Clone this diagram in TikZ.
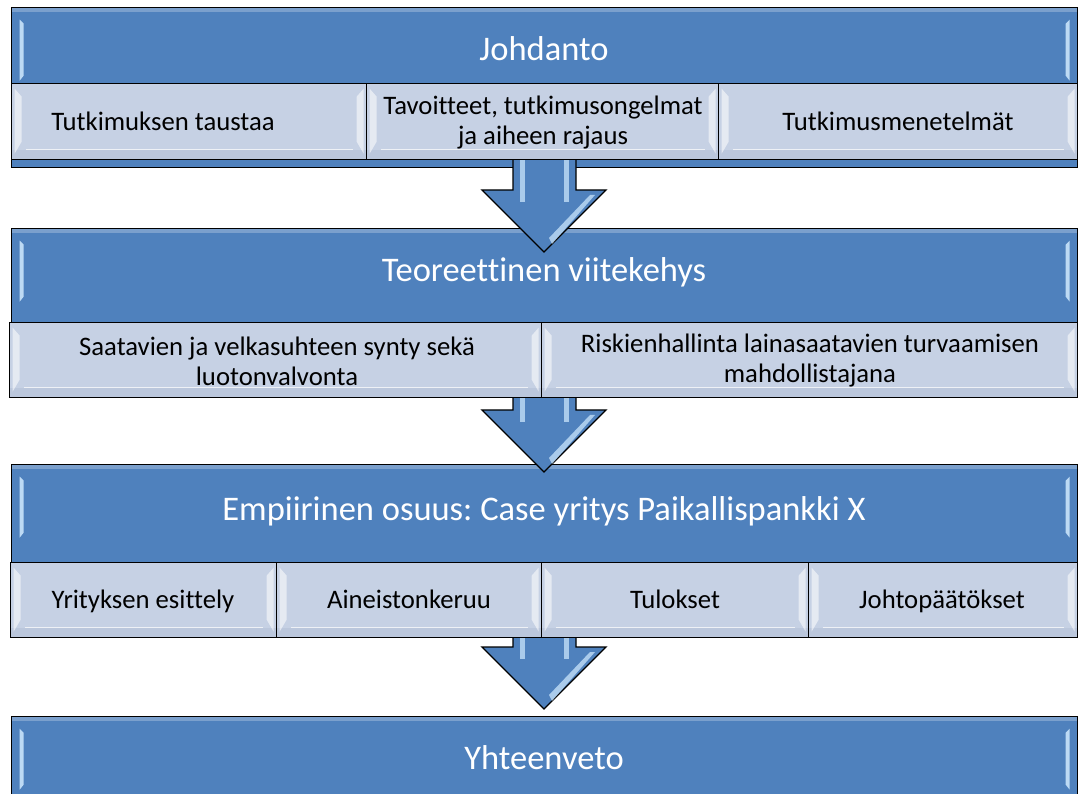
\documentclass[tikz,border=0pt]{standalone}
\usepackage{fontspec}
\setmainfont{Carlito}[Ligatures=CommonOff]
\usetikzlibrary{calc}
\frenchspacing
\definecolor{hblue}{HTML}{4F81BD}
\definecolor{subfill}{HTML}{C6D1E4}
\definecolor{subband}{HTML}{BBC7DC}
\definecolor{hilite}{HTML}{C9E4FB}
\tikzset{
  bar/.style={draw=black, line width=1.3pt, fill=hblue, anchor=north west, inner sep=0pt,
    path picture={
      \coordinate (pnw) at (path picture bounding box.north west);
      \coordinate (pne) at (path picture bounding box.north east);
      \fill[white,opacity=.25] (pnw) rectangle ([yshift=-4pt]pne);
      \fill[hilite,opacity=.9] ([xshift=8pt,yshift=-12pt]pnw) -- ++(4pt,-4pt) -- ++(0pt,-52pt) -- ++(-4pt,-5pt) -- cycle;
      \fill[hilite,opacity=.9] ([xshift=-8pt,yshift=-12pt]pne) -- ++(-4pt,-4pt) -- ++(0pt,-52pt) -- ++(4pt,-5pt) -- cycle;
    }},
  headtext/.style={text=white, font=\fontsize{34.5}{40}\selectfont, inner sep=0pt, anchor=base},
  celltext/.style={font=\fontsize{26.7}{30}\selectfont, inner sep=0pt, text=black, align=center},
  cell/.style={draw=black, line width=1.3pt, fill=subfill, anchor=north west, inner sep=0pt,
    path picture={
      \coordinate (pnw) at (path picture bounding box.north west);
      \coordinate (pse) at (path picture bounding box.south east);
      \coordinate (psw) at (path picture bounding box.south west);
      \coordinate (pne) at (path picture bounding box.north east);
      \fill[subband] ([yshift=10pt]psw) rectangle (pse);
      \draw[white,opacity=.7,line width=1pt] ([xshift=14pt,yshift=10pt]psw) -- ([xshift=-14pt,yshift=10pt]pse);
      \fill[white,opacity=.55] ([xshift=3pt,yshift=-5pt]pnw) -- ++(7pt,-8pt) -- ([xshift=10pt,yshift=18pt]psw) -- ([xshift=3pt,yshift=6pt]psw) -- cycle;
      \fill[white,opacity=.55] ([xshift=-3pt,yshift=-5pt]pne) -- ++(-7pt,-8pt) -- ([xshift=-10pt,yshift=18pt]pse) -- ([xshift=-3pt,yshift=6pt]pse) -- cycle;
    }},
  blockarrow/.style={draw=black, line width=1.3pt, fill=hblue, line join=miter},
  shine/.style={fill=hilite, opacity=.75}
}
\newcommand{\downarrowat}[3]{%
  \draw[blockarrow] (513,#1) -- (513,#2) -- (482,#2) -- (544,#3) -- (606,#2) -- (576,#2) -- (576,#1) -- cycle;
  \fill[shine] (520,#1) rectangle (525,#2+12);
  \fill[shine] (564,#1) rectangle (569,#2+12);
  \fill[shine] (590,#2+5) -- (595,#2+5) -- (552,#3-8) -- (549,#3-14) -- cycle;
}
\begin{document}
\begin{tikzpicture}[x=1pt,y=-1pt]
\useasboundingbox (0,0) rectangle (1080,794);
\clip (0,0) rectangle (1080,794);

% bars (blue)
\node[bar, minimum width=1066pt, minimum height=160pt] (b1) at (11,7) {};
\node[bar, minimum width=1066pt, minimum height=95pt] (b2) at (11,228) {};
\node[bar, minimum width=1066pt, minimum height=98pt] (b3) at (11,464) {};
\node[bar, minimum width=1066pt, minimum height=90pt] (b4) at (11,716) {};

% arrows
\downarrowat{150}{190}{252}
\downarrowat{390}{410}{472}
\downarrowat{630}{647}{709}

% header texts
\node[headtext] (h1) at (544,61) {Johdanto};
\node[headtext] (h2) at (544,282) {Teoreettinen viitekehys};
\node[headtext] (h3) at (544,520) {Empiirinen osuus: Case yritys Paikallispankki X};
\node[headtext] (h4) at (544,769) {Yhteenveto};

% row 1 cells
\node[cell, minimum width=355pt, minimum height=76pt] (c11) at (11,83) {};
\node[cell, minimum width=352pt, minimum height=76pt] (c12) at (366,83) {};
\node[cell, minimum width=359pt, minimum height=76pt] (c13) at (718,83) {};
\node[celltext, anchor=base] (t11) at (163,131) {Tutkimuksen taustaa};
\node[celltext] (t12) at (543,123) {Tavoitteet, tutkimusongelmat\\ja aiheen rajaus};
\node[celltext, anchor=base] (t13) at (898,131) {Tutkimusmenetelmät};

% row 2 cells
\node[cell, minimum width=532pt, minimum height=75pt] (c21) at (9,322) {};
\node[cell, minimum width=536pt, minimum height=75pt] (c22) at (541,322) {};
\node[celltext] (t21) at (277,361) {Saatavien ja velkasuhteen synty sekä\\luotonvalvonta};
\node[celltext] (t22) at (810,361) {Riskienhallinta lainasaatavien turvaamisen\\mahdollistajana};

% row 3 cells
\node[cell, minimum width=266pt, minimum height=75pt] (c31) at (10,562) {};
\node[cell, minimum width=265pt, minimum height=75pt] (c32) at (276,562) {};
\node[cell, minimum width=267pt, minimum height=75pt] (c33) at (541,562) {};
\node[cell, minimum width=269pt, minimum height=75pt] (c34) at (808,562) {};
\node[celltext, anchor=base] (t31) at (143,608) {Yrityksen esittely};
\node[celltext, anchor=base] (t32) at (409,608) {Aineistonkeruu};
\node[celltext, anchor=base] (t33) at (675,608) {Tulokset};
\node[celltext, anchor=base] (t34) at (942,608) {Johtopäätökset};
\end{tikzpicture}
\end{document}
